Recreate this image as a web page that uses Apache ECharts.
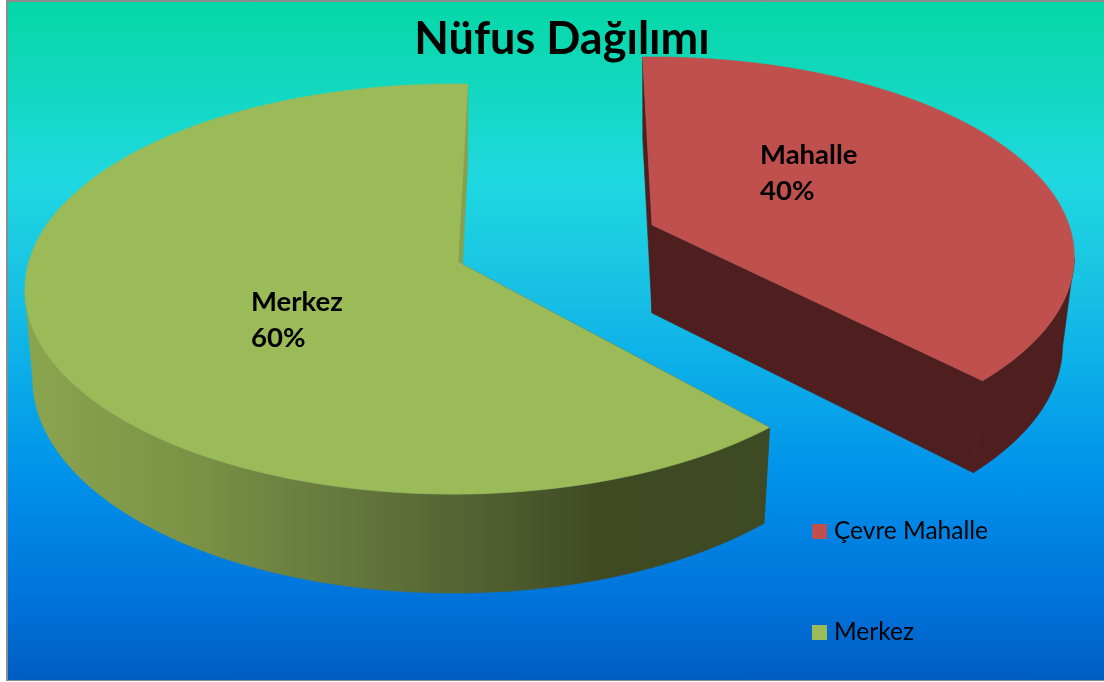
<!DOCTYPE html>
<html>
<head>
<meta charset="utf-8">
<title>Nüfus Dağılımı</title>
<script src="https://cdn.jsdelivr.net/npm/echarts@6/dist/echarts.min.js"></script>
<style>
  html, body { margin: 0; padding: 0; background: #fff; overflow: hidden; }
  #plate {
    position: absolute; left: 6px; top: 0; width: 1098px; height: 681px;
    box-sizing: border-box; border: solid #8c8c8c; border-width: 2px 0 1px 2px;
    background: linear-gradient(180deg, #05d8a8 0px, #0dd8b4 50px, #1fd8e0 178px, #18c0e4 290px,
      #0cb0e8 360px, #0090ea 480px, #007cdf 560px, #0070d8 610px, #005cc0 681px);
  }
  #chart { position: absolute; left: 0; top: 0; width: 1104px; height: 682px; }
</style>
</head>
<body>
<div id="plate"></div>
<div id="chart"></div>
<script>
const sliceNames = ['Çevre Mahalle', 'Merkez'];
const labelNames = ['Mahalle', 'Merkez'];
const sliceValues = [40, 60];
const sliceColors = ['#c0504d', '#9bbb59'];

// camera for each exploded slice: apex on screen, radii, perspective, wall height
const views = [
  { cx: 652, cy: 225, a: 417, b: 194.6, k: 0.158, m: 0, rot: -1.5, depth: 88, depthK: 0.06, inset: 0.972 },
  { cx: 458, cy: 262, a: 425, b: 201.5, k: 0.132, m: 0.01, rot: 1.5, depth: 88, depthK: 0.11, inset: 0.982 }
];
const labelSpots = [[760, 137], [251, 284]];

const greenWall = {
  type: 'linear', global: true, x: 30, y: 0, x2: 770, y2: 0,
  colorStops: [
    { offset: 0, color: '#8ba44e' },
    { offset: 0.23, color: '#7a9145' },
    { offset: 0.36, color: '#6b8040' },
    { offset: 0.57, color: '#566634' },
    { offset: 0.77, color: '#3f4a23' },
    { offset: 1, color: '#3e4a23' }
  ]
};
const wallFills = ['#4f1e1e', greenWall];
const cutFills = ['#4f1e1e', '#87a04c'];

const total = sliceValues.reduce((sum, v) => sum + v, 0);
const starts = sliceValues.map((_, i) => sliceValues.slice(0, i).reduce((sum, v) => sum + v, 0) / total * 360);

// the view squeezes the angles a little, as the 3D chart does
const viewAngle = (deg, view) => deg - 12.3 * Math.sin(deg * Math.PI / 180) + view.rot;

const project = (deg, view, lower) => {
  const t = viewAngle(deg, view) * Math.PI / 180;
  const u = Math.sin(t);
  const v = Math.cos(t);
  const w = 1 + view.k * v + view.m * u;
  if (!lower) return [view.cx + view.a * u / w, view.cy - view.b * v / w];
  return [
    view.cx + view.inset * view.a * u / w,
    view.cy - view.b * v / w + view.depth / (1 + view.depthK * v)
  ];
};

const sweep = (from, to) => {
  const steps = 160;
  const out = [];
  for (let i = 0; i <= steps; i++) out.push(from + (to - from) * i / steps);
  return out;
};

const makeRender = (i) => (params, api) => {
  const view = views[i];
  const value = api.value(0);
  const from = starts[i];
  const to = from + value / total * 360;
  const angles = sweep(from, to);
  // only the part of the rim that turns toward the viewer gets a wall
  const front = angles.filter((deg) => Math.cos(viewAngle(deg, view) * Math.PI / 180) <= -view.k);
  const top = angles.map((deg) => project(deg, view, false));
  const rimTop = front.map((deg) => project(deg, view, false));
  const rimLow = front.map((deg) => project(deg, view, true));
  const apex = [view.cx, view.cy];
  const apexLow = [view.cx, view.cy + view.depth];
  const poly = (points, fill) => ({
    type: 'polygon',
    shape: { points },
    style: { fill, stroke: fill, lineWidth: 0.6 }
  });
  return {
    type: 'group',
    children: [
      poly(rimTop.concat(rimLow.slice().reverse()), wallFills[i]),
      poly([apex, project(from, view, false), project(from, view, true), apexLow], wallFills[i]),
      poly([apex, project(to, view, false), project(to, view, true), apexLow], cutFills[i]),
      poly([apex].concat(top), sliceColors[i]),
      {
        type: 'text',
        style: {
          x: labelSpots[i][0],
          y: labelSpots[i][1],
          text: labelNames[i] + '\n' + Math.round(value / total * 100) + '%',
          fill: '#000',
          fontFamily: 'Lato',
          fontWeight: 'bold',
          fontSize: 27.5,
          lineHeight: 36
        }
      }
    ]
  };
};

const chart = echarts.init(document.getElementById('chart'));
chart.setOption({
  animation: false,
  title: {
    text: 'Nüfus Dağılımı',
    left: 557,
    top: 12,
    textAlign: 'center',
    textStyle: { fontFamily: 'Lato', fontWeight: 'bold', fontSize: 45, color: '#000' }
  },
  legend: {
    orient: 'vertical',
    left: 812,
    top: 519,
    padding: 0,
    itemWidth: 15,
    itemHeight: 15,
    itemGap: 76,
    icon: 'rect',
    selectedMode: false,
    textStyle: { fontFamily: 'Lato', fontSize: 24.5, color: '#000', padding: [0, 0, 0, 2] },
    data: sliceNames
  },
  series: sliceNames.map((name, i) => ({
    name,
    type: 'custom',
    coordinateSystem: 'none',
    silent: true,
    itemStyle: { color: sliceColors[i] },
    data: [[sliceValues[i]]],
    renderItem: makeRender(i)
  }))
});
</script>
</body>
</html>
